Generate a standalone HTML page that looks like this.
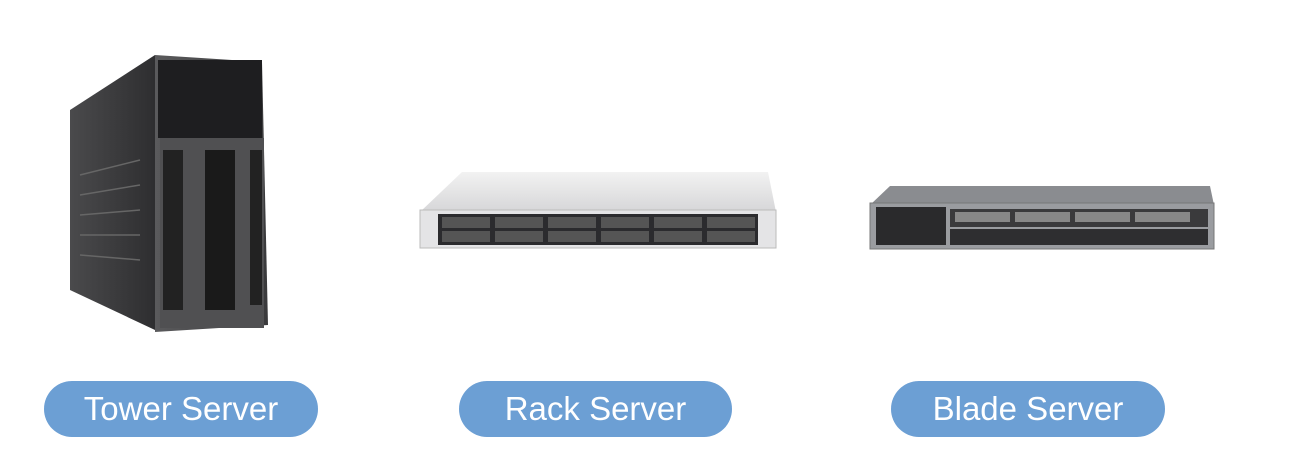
<!DOCTYPE html>
<html><head><style>
html,body{margin:0;padding:0;background:#fff;}
body{width:1293px;height:455px;position:relative;overflow:hidden;font-family:"Liberation Sans",sans-serif;}
.pill{position:absolute;top:381px;height:56px;border-radius:28px;background:#6c9fd4;color:#fff;font-size:33px;line-height:56px;text-align:center;}
</style></head><body>
<svg width="1293" height="455" style="position:absolute;left:0;top:0">
<defs>
<linearGradient id="side" x1="0" x2="1"><stop offset="0" stop-color="#4a4a4c"/><stop offset="1" stop-color="#2e2e30"/></linearGradient>
<linearGradient id="front" x1="0" x2="1"><stop offset="0" stop-color="#5a5a5c"/><stop offset="1" stop-color="#3a3a3c"/></linearGradient>
<linearGradient id="lid" x1="0" y1="0" x2="0" y2="1"><stop offset="0" stop-color="#f2f2f2"/><stop offset="1" stop-color="#d6d6d8"/></linearGradient>
</defs>
<!-- tower -->
<polygon points="70,110 155,55 155,330 70,290" fill="url(#side)"/>
<polygon points="155,55 262,62 268,325 155,332" fill="url(#front)"/>
<rect x="158" y="60" width="104" height="78" fill="#1e1e20"/>
<rect x="160" y="138" width="104" height="190" fill="#505052"/>
<rect x="205" y="150" width="30" height="160" fill="#1a1a1a"/>
<rect x="163" y="150" width="20" height="160" fill="#222"/>
<rect x="250" y="150" width="12" height="155" fill="#222"/>
<g stroke="#666" stroke-width="1.5">
<line x1="80" y1="175" x2="140" y2="160"/><line x1="80" y1="195" x2="140" y2="185"/><line x1="80" y1="215" x2="140" y2="210"/><line x1="80" y1="235" x2="140" y2="235"/><line x1="80" y1="255" x2="140" y2="260"/>
</g>
<!-- rack -->
<polygon points="420,212 462,172 768,172 776,212" fill="url(#lid)"/>
<rect x="420" y="210" width="356" height="38" fill="#e4e4e6" stroke="#bbb"/>
<rect x="438" y="214" width="320" height="31" fill="#2b2b2e"/>
<g fill="#555">
<rect x="442" y="217" width="48" height="11"/><rect x="442" y="231" width="48" height="11"/>
<rect x="495" y="217" width="48" height="11"/><rect x="495" y="231" width="48" height="11"/>
<rect x="548" y="217" width="48" height="11"/><rect x="548" y="231" width="48" height="11"/>
<rect x="601" y="217" width="48" height="11"/><rect x="601" y="231" width="48" height="11"/>
<rect x="654" y="217" width="48" height="11"/><rect x="654" y="231" width="48" height="11"/>
<rect x="707" y="217" width="48" height="11"/><rect x="707" y="231" width="48" height="11"/>
</g>
<!-- blade -->
<polygon points="870,205 890,186 1210,186 1214,205" fill="#8a8c90"/>
<rect x="870" y="203" width="344" height="46" fill="#9a9ca0" stroke="#777"/>
<rect x="876" y="207" width="70" height="38" fill="#2a2a2c"/>
<rect x="950" y="209" width="258" height="18" fill="#3a3a3c"/>
<rect x="950" y="229" width="258" height="16" fill="#2e2e30"/>
<g fill="#888"><rect x="955" y="212" width="55" height="10"/><rect x="1015" y="212" width="55" height="10"/><rect x="1075" y="212" width="55" height="10"/><rect x="1135" y="212" width="55" height="10"/></g>
</svg>
<div class="pill" style="left:44px;width:274px">Tower Server</div>
<div class="pill" style="left:459px;width:273px">Rack Server</div>
<div class="pill" style="left:891px;width:274px">Blade Server</div>
</body></html>
